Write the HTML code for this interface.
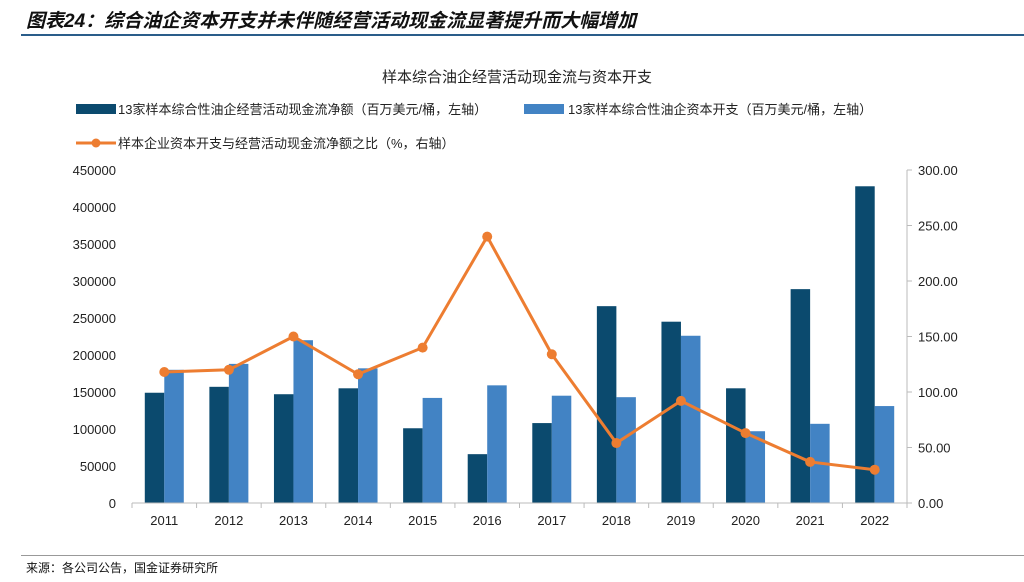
<!DOCTYPE html>
<html><head><meta charset="utf-8"><style>
body{margin:0;width:1024px;height:577px;background:#fff;overflow:hidden;font-family:"Liberation Sans","Noto Sans CJK SC",sans-serif;}
svg text{font-family:"Liberation Sans","Noto Sans CJK SC",sans-serif;}
</style></head><body>
<svg id="c" width="1024" height="577">
<text x="26" y="27" font-size="19" font-weight="bold" font-style="italic" fill="#111">图表24：综合油企资本开支并未伴随经营活动现金流显著提升而大幅增加</text>
<rect x="21" y="34" width="1003" height="2" fill="#2a5d8a"/>
<text x="517" y="82" font-size="15" text-anchor="middle" fill="#222">样本综合油企经营活动现金流与资本开支</text>
<g>
<rect x="76" y="104" width="40" height="10" fill="#0b4a6e"/>
<text x="118" y="114" font-size="13" fill="#222">13家样本综合性油企经营活动现金流净额（百万美元/桶，左轴）</text>
<rect x="524" y="104" width="40" height="10" fill="#4283c4"/>
<text x="568" y="114" font-size="13" fill="#222">13家样本综合性油企资本开支（百万美元/桶，左轴）</text>
<line x1="76" y1="143" x2="116" y2="143" stroke="#ed7d31" stroke-width="3"/>
<circle cx="96" cy="143" r="4.5" fill="#ed7d31"/>
<text x="118" y="148" font-size="13" fill="#222">样本企业资本开支与经营活动现金流净额之比（%，右轴）</text>
</g>
<g id="plot"></g>
<text x="26" y="572" font-size="12" fill="#111">来源：各公司公告，国金证券研究所</text>
<rect x="21" y="555" width="1003" height="1" fill="#999"/>
</svg>
<script>
const years=["2011","2012","2013","2014","2015","2016","2017","2018","2019","2020","2021","2022"];
const cfo=[149000,157000,147000,155000,101000,66000,108000,266000,245000,155000,289000,428000];
const capex=[180000,188000,220000,182000,142000,159000,145000,143000,226000,97000,107000,131000];
const ratio=[118,120,150,116,140,240,134,54,92,63,37,30];
const leftTicks=[0,50000,100000,150000,200000,250000,300000,350000,400000,450000];
const rightTicks=["0.00","50.00","100.00","150.00","200.00","250.00","300.00"];
const NS="http://www.w3.org/2000/svg",g=document.getElementById('plot');
const x0=132,x1=907,yb=503,yt=170,bw=(x1-x0)/years.length;
const yL=v=>yb-(yb-yt)*v/450000, yR=v=>yb-(yb-yt)*v/300, xc=i=>x0+bw*(i+0.5);
function mk(t,a,txt){const e=document.createElementNS(NS,t);for(const k in a)e.setAttribute(k,a[k]);if(txt!=null)e.textContent=txt;g.appendChild(e);return e;}
leftTicks.forEach(v=>{const e=mk('text',{x:116,y:yL(v)+5,'font-size':13,'text-anchor':'end',fill:'#222'},v);

});
rightTicks.forEach(v=>{const e=mk('text',{x:918,y:yR(+v)+5,'font-size':13,fill:'#222'},v);

});
let ax=mk('line',{x1:x1,y1:yt,x2:x1,y2:yb,stroke:'#bbb'});


rightTicks.forEach(v=>{const t=mk('line',{x1:x1,y1:yR(+v),x2:x1+5,y2:yR(+v),stroke:'#bbb'});

});
years.forEach((y,i)=>{
const b1=mk('rect',{x:xc(i)-19.5,y:yL(cfo[i]),width:19.5,height:yb-yL(cfo[i]),fill:'#0b4a6e'});


const b2=mk('rect',{x:xc(i),y:yL(capex[i]),width:19.5,height:yb-yL(capex[i]),fill:'#4283c4'});


const l=mk('text',{x:xc(i),y:525,'font-size':13,'text-anchor':'middle',fill:'#222'},y);


});
for(let i=0;i<=years.length;i++){const t=mk('line',{x1:x0+bw*i,y1:yb,x2:x0+bw*i,y2:yb+5,stroke:'#bbb'});

}
const base=mk('line',{x1:x0,y1:yb,x2:x1,y2:yb,stroke:'#bbb'});


const ln=mk('polyline',{points:ratio.map((v,i)=>xc(i)+','+yR(v)).join(' '),fill:'none',stroke:'#ed7d31','stroke-width':3});


ratio.forEach((v,i)=>{const c=mk('circle',{cx:xc(i),cy:yR(v),r:5,fill:'#ed7d31'});

});
</script>
</body></html>
